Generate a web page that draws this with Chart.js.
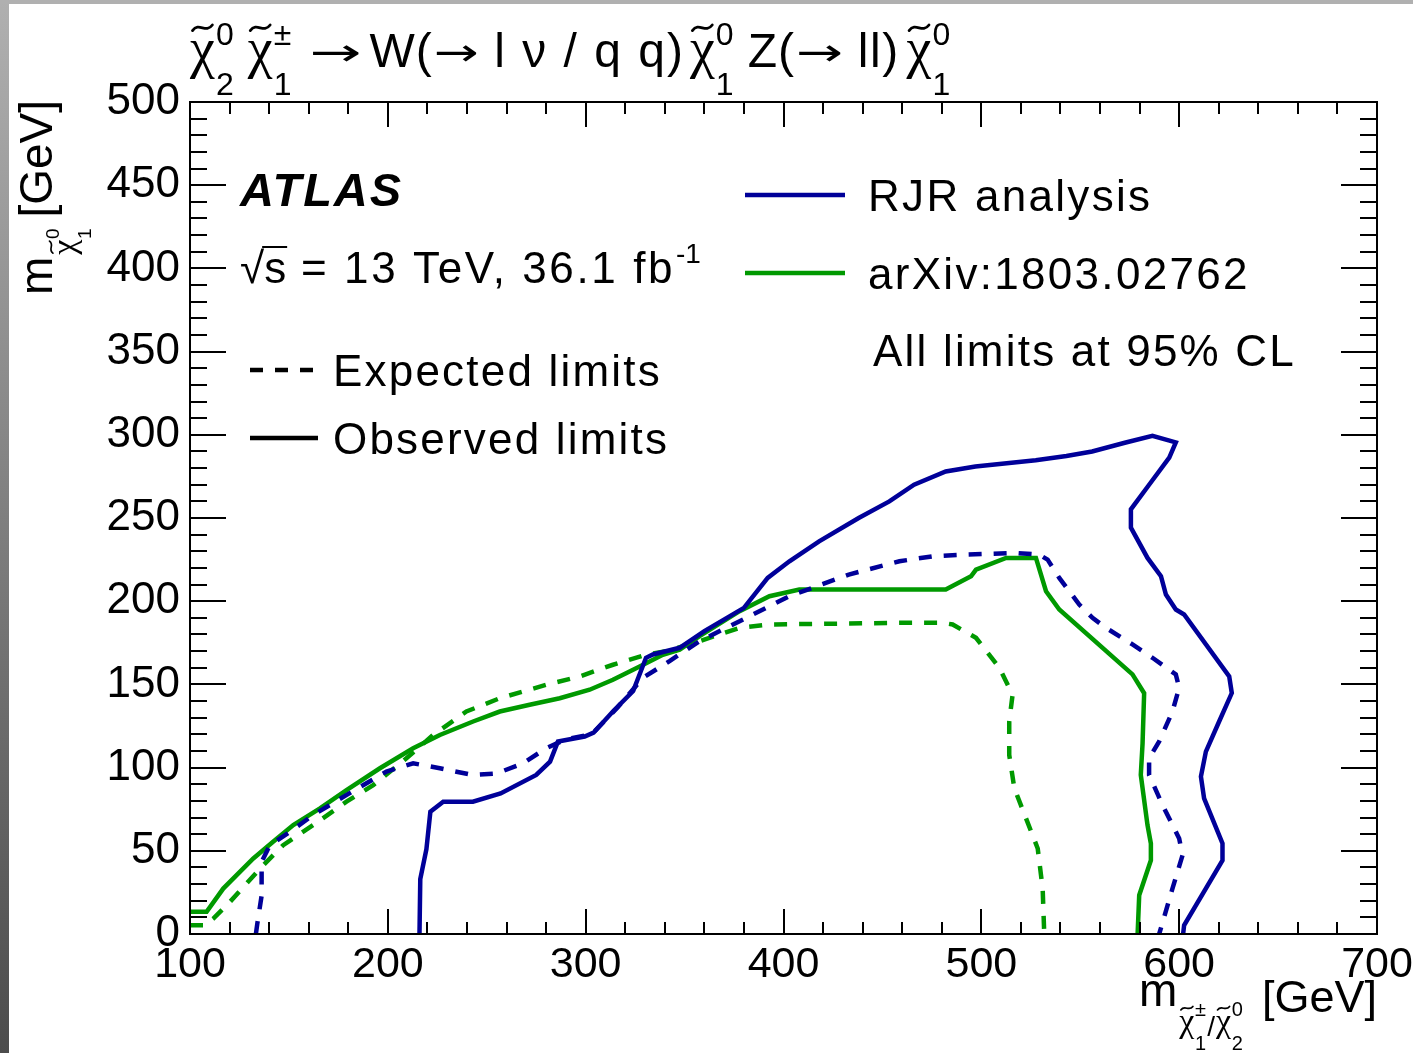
<!DOCTYPE html>
<html><head><meta charset="utf-8">
<script src="https://cdn.jsdelivr.net/npm/chart.js@4"></script>
<style>html,body{margin:0;padding:0;background:#fff}canvas{display:block}</style>
</head><body>
<canvas id="c" width="1413" height="1053"></canvas>
<script>
// ---------------- data ----------------
const rjrObsX = [216,216.4,219.5,221.5,228,243,257,275,282,286,299.5,304,314,324,330.5,334,347.5,360,380,392,403,418,438,453.5,466,482,497,527.5,543,556,573,586.5,598.3,595,585,575.6,575.6,584,590.8,593.3,598.3,602.5,625.3,626.6,620.2,613.5,611,612.6,621.9,621.9,602.5,602];
const rjrObsY = [0,33,51,73.5,79.5,79.5,84.5,95.6,103.6,115.7,118.7,121,134,146,166,168,172,182,196,214,224,236,250,260,270,278,281,284.7,287.3,290,295.4,299.4,295.4,286.3,270.3,255.2,244.2,226,215,204,195,192,154.8,144.8,127.7,109.6,94.6,81.5,54.4,44.3,5.2,0];

const rjrExpX = [133.3,134,136.2,136.2,140.4,150.5,162.3,179,199.3,212.8,226.3,243,255,268.3,280,290,303,316,329,342.4,357.6,377.8,403,433,458.6,475.4,492.3,517.5,529.3,533.5,539.4,549.5,556.2,563,576.4,586.5,598.3,600,596.6,589.9,584.8,584.8,591.6,600,601.7,596.6,589.9];
const rjrExpY = [0,6,23,43.4,53.4,61.4,71.5,83.5,97.6,102.6,99.6,95.5,96.5,102.6,111.6,117,120,136,154,164,176,188,203,216,224,227,228,229,228,225,214,198,190,184,174,166,156,148,133.7,115.7,105.6,95.6,77.5,57.4,47.3,27.3,0];

const arxObsX = [100,108.4,116.8,132,142,152.2,165.7,179.1,196,212.8,226.3,243.1,256.6,271.7,286.9,302,313.8,327.3,339,347.5,357.6,377.8,392.9,408,458.6,482,494.8,497.3,512.5,527.6,532.7,539.4,576.4,582.3,581.5,580.6,584,585.7,585.7,579.8,579];
const arxObsY = [13.3,13.3,27.3,45.4,55.4,65.5,75.5,86.5,99.6,111.6,119.6,127.7,133.7,137.8,141.7,146.8,152.8,160.8,167.8,170.8,179,194,203,207,207,207,215,219,226,226,206,195,156,144.7,114.6,95.6,65.4,54.4,44.3,23.3,0];

const arxExpX = [100,107.6,111.8,120.2,135.4,147.1,162.3,179.1,192.6,209.4,222.9,239.7,256.6,280.2,297,313.8,330.6,340.7,357.6,377.8,393,458.6,480.5,485.5,497.3,509.1,515.8,514.1,514.1,516.7,525.9,528.5,531,531.8];
const arxExpY = [5.2,5.2,9.2,19.3,39.3,53.4,65.5,79.5,89.5,105.6,119.6,133.7,141.7,149.8,154.8,161.8,167.8,169.9,176,184,186,187,187,186,178,160,143.8,127.7,107.6,87.5,59.4,51.4,27.3,0];

const xRange = [100, 700];
const yRange = [0, 500];
const xMajorStep = 100, xMinorStep = 20;
const yMajorStep = 50, yMinorStep = 10;

const seriesNames = ['RJR analysis', 'arXiv:1803.02762'];
const styleNames = ['Expected limits', 'Observed limits'];
const noteText = 'All limits at 95% CL';

// ---------------- styling ----------------
const BLUE = '#000099', GREEN = '#009900';
const SANS = '"Liberation Sans", Arial, Helvetica, sans-serif';
const SERIF = '"Liberation Serif", "DejaVu Serif", serif';
const ARROWF = '"DejaVu Sans", sans-serif';
const DASH = [13, 12];
const LW = 4.5;

function pts(xs, ys) { return xs.map((x, i) => ({ x: x, y: ys[i] })); }
function ds(label, xs, ys, color, dashed) {
  return { label, data: pts(xs, ys), showLine: true, borderColor: color, backgroundColor: color,
    borderWidth: LW, borderDash: dashed ? DASH : [], pointRadius: 0, tension: 0,
    borderJoinStyle: 'miter', borderCapStyle: 'butt', fill: false };
}

function setFont(ctx, size, style, family, ls) {
  ctx.font = (style || '') + ' ' + size + 'px ' + (family || SANS);
  ctx.letterSpacing = (ls || 0) + 'px';
}
function text(ctx, s, x, y, size, style, ls, family) {
  setFont(ctx, size, style, family, ls);
  ctx.fillText(s, x, y);
  return x + ctx.measureText(s).width;
}
// horizontally stretched text (used for the long arrows); returns end x
function wideText(ctx, s, x, y, size, targetW, family) {
  setFont(ctx, size, '', family || SANS, 0);
  const w = ctx.measureText(s).width;
  const k = targetW / w;
  ctx.save(); ctx.translate(x, y); ctx.scale(k, 1); ctx.fillText(s, 0, 0); ctx.restore();
  return x + targetW;
}
function tilde(ctx, cx, ty, w, a, lw) {
  ctx.save(); ctx.lineWidth = lw; ctx.lineCap = 'round'; ctx.beginPath();
  ctx.moveTo(cx - w / 2, ty + a);
  ctx.bezierCurveTo(cx - w / 6, ty - 2.2 * a, cx + w / 6, ty + 2.2 * a, cx + w / 2, ty - a);
  ctx.stroke(); ctx.restore();
}
// chi with tilde, superscript and subscript; returns end x
function chi(ctx, x, base, size, sup, sub, ssize, supDy, subDy) {
  setFont(ctx, size, '', SERIF, 0);
  const w = ctx.measureText('χ').width;
  ctx.fillText('χ', x, base);
  tilde(ctx, x + w * 0.5, base - size * 0.7, w * 0.8, size * 0.05, Math.max(1.4, size * 0.05));
  setFont(ctx, ssize, '', SANS, 0);
  const sx = x + w + size * 0.02;
  const w1 = sup ? ctx.measureText(sup).width : 0;
  const w2 = sub ? ctx.measureText(sub).width : 0;
  if (sup) ctx.fillText(sup, sx, base + supDy);
  if (sub) ctx.fillText(sub, sx, base + subDy);
  return sx + Math.max(w1, w2);
}

const bgPlugin = {
  id: 'bg',
  beforeDraw(chart) {
    const ctx = chart.ctx, W = chart.width, H = chart.height;
    ctx.save();
    ctx.fillStyle = '#fff'; ctx.fillRect(0, 0, W, H);
    const g = ctx.createLinearGradient(0, 0, 0, H);
    g.addColorStop(0, '#b0b0b0'); g.addColorStop(1, '#4c4c4c');
    ctx.fillStyle = g; ctx.fillRect(0, 0, 9, H);
    ctx.fillStyle = '#b0b0b0'; ctx.fillRect(0, 0, W, 4);
    ctx.restore();
  }
};

const framePlugin = {
  id: 'frame',
  afterDatasetsDraw(chart) {
    const ctx = chart.ctx, a = chart.chartArea, xs = chart.scales.x, ys = chart.scales.y;
    ctx.save();
    ctx.strokeStyle = '#000'; ctx.lineWidth = 2; ctx.lineCap = 'butt';
    ctx.strokeRect(a.left, a.top, a.right - a.left, a.bottom - a.top);
    ctx.beginPath();
    for (let v = xRange[0]; v <= xRange[1] + 1e-9; v += xMinorStep) {
      const p = Math.round(xs.getPixelForValue(v));
      const L = (Math.abs(v % xMajorStep) < 1e-6) ? 25 : 12;
      ctx.moveTo(p, a.bottom); ctx.lineTo(p, a.bottom - L);
      ctx.moveTo(p, a.top); ctx.lineTo(p, a.top + L);
    }
    for (let v = yRange[0]; v <= yRange[1] + 1e-9; v += yMinorStep) {
      const p = Math.round(ys.getPixelForValue(v));
      const L = (Math.abs(v % yMajorStep) < 1e-6) ? 36 : 17;
      ctx.moveTo(a.left, p); ctx.lineTo(a.left + L, p);
      ctx.moveTo(a.right, p); ctx.lineTo(a.right - L, p);
    }
    ctx.stroke();
    ctx.restore();
  },
  afterDraw(chart) {
    const ctx = chart.ctx;
    ctx.save();
    ctx.fillStyle = '#000'; ctx.strokeStyle = '#000'; ctx.textBaseline = 'alphabetic'; ctx.textAlign = 'left';

    // ---- title ----
    let x = 190, b = 67, S = 48, C = 56, s2 = 32, up = -22, dn = 28;
    x = chi(ctx, x, b, C, '0', '2', s2, up, dn) + 14;
    x = chi(ctx, x, b, C, '±', '1', s2, up, dn) + 18;
    x = wideText(ctx, '→', x, b - 2, 38, 52, ARROWF) + 8;
    x = text(ctx, 'W(', x, b, S, '', 1);
    x = wideText(ctx, '→', x + 1, b - 2, 38, 45, ARROWF);
    x = text(ctx, ' l ν / q q)', x, b, S, '', 2) + 5;
    x = chi(ctx, x, b, C, '0', '1', s2, up, dn) + 14;
    x = text(ctx, 'Z(', x, b, S, '', 1);
    x = wideText(ctx, '→', x + 1, b - 2, 38, 47, ARROWF);
    x = text(ctx, ' ll)', x, b, S, '', 1.5) + 7;
    chi(ctx, x, b, C, '0', '1', s2, up, dn);

    // ---- ATLAS label ----
    text(ctx, 'ATLAS', 240, 206, 47, 'italic bold', 2);
    let sx = 240, sb = 283;
    setFont(ctx, 44, '', SANS, 0);
    const rw = ctx.measureText('√').width;
    ctx.fillText('√', sx, sb);
    const sw = ctx.measureText('s').width;
    ctx.fillText('s', sx + rw, sb);
    ctx.lineWidth = 2; ctx.beginPath(); ctx.moveTo(sx + rw - 2, sb - 36); ctx.lineTo(sx + rw + sw + 1, sb - 36); ctx.stroke();
    let tx = text(ctx, ' = 13 TeV, 36.1 fb', sx + rw + sw, sb, 44, '', 2.6);
    text(ctx, '-1', tx + 1, sb - 20, 28, '', 0);

    // ---- style legend ----
    ctx.lineWidth = LW; ctx.strokeStyle = '#000';
    ctx.setLineDash(DASH); ctx.beginPath(); ctx.moveTo(250, 370); ctx.lineTo(318, 370); ctx.stroke();
    ctx.setLineDash([]); ctx.beginPath(); ctx.moveTo(250, 438); ctx.lineTo(318, 438); ctx.stroke();
    text(ctx, styleNames[0], 333, 386, 44, '', 2.2);
    text(ctx, styleNames[1], 333, 454, 44, '', 2.2);

    // ---- series legend ----
    ctx.strokeStyle = BLUE; ctx.beginPath(); ctx.moveTo(745, 195); ctx.lineTo(845, 195); ctx.stroke();
    ctx.strokeStyle = GREEN; ctx.beginPath(); ctx.moveTo(745, 273); ctx.lineTo(845, 273); ctx.stroke();
    ctx.strokeStyle = '#000';
    text(ctx, seriesNames[0], 868, 211, 44, '', 2.3);
    text(ctx, seriesNames[1], 868, 289, 44, '', 2.3);
    text(ctx, noteText, 873, 366, 44, '', 2.2);

    // ---- x axis title ----
    ctx.textAlign = 'right';
    text(ctx, '[GeV]', 1377, 1012, 45, '', 0);
    ctx.textAlign = 'left';
    let mx = 1139;
    mx = text(ctx, 'm', mx, 1006, 46, '', 0) + 2;
    mx = chi(ctx, mx, 1032, 34, '±', '1', 20, -16, 18);
    mx = text(ctx, '/', mx + 1, 1036, 28, '', 0) + 1;
    chi(ctx, mx, 1032, 34, '0', '2', 20, -16, 18);

    // ---- y axis title ----
    ctx.translate(52, 295); ctx.rotate(-Math.PI / 2);
    let my = text(ctx, 'm', 0, 0, 46, '', 0) + 2;
    chi(ctx, my, 23, 34, '0', '1', 19, -16, 16);
    ctx.textAlign = 'right';
    text(ctx, '[GeV]', 195, 0, 46, '', 0);
    ctx.restore();
  }
};

new Chart(document.getElementById('c').getContext('2d'), {
  type: 'scatter',
  data: {
    datasets: [
      ds(seriesNames[0] + ' observed', rjrObsX, rjrObsY, BLUE, false),
      ds(seriesNames[0] + ' expected', rjrExpX, rjrExpY, BLUE, true),
      ds(seriesNames[1] + ' observed', arxObsX, arxObsY, GREEN, false),
      ds(seriesNames[1] + ' expected', arxExpX, arxExpY, GREEN, true)
    ]
  },
  options: {
    responsive: false, animation: false, devicePixelRatio: 1,
    layout: { autoPadding: false, padding: { left: 0, right: 36, top: 102, bottom: 0 } },
    plugins: { legend: { display: false }, tooltip: { enabled: false }, title: { display: false } },
    scales: {
      x: {
        type: 'linear', min: xRange[0], max: xRange[1],
        afterFit(s) { s.height = 119; s.paddingLeft = 0; s.paddingRight = 0; },
        ticks: { stepSize: xMajorStep, color: '#000', font: { family: SANS, size: 43 }, padding: 5, maxRotation: 0, autoSkip: false },
        grid: { display: false, drawTicks: false }, border: { display: false }
      },
      y: {
        type: 'linear', min: yRange[0], max: yRange[1],
        afterFit(s) { s.width = 190; s.paddingTop = 0; s.paddingBottom = 0; },
        ticks: { stepSize: yMajorStep, color: '#000', font: { family: SANS, size: 44 }, padding: 10, autoSkip: false },
        grid: { display: false, drawTicks: false }, border: { display: false }
      }
    }
  },
  plugins: [bgPlugin, framePlugin]
});
</script>
</body></html>
